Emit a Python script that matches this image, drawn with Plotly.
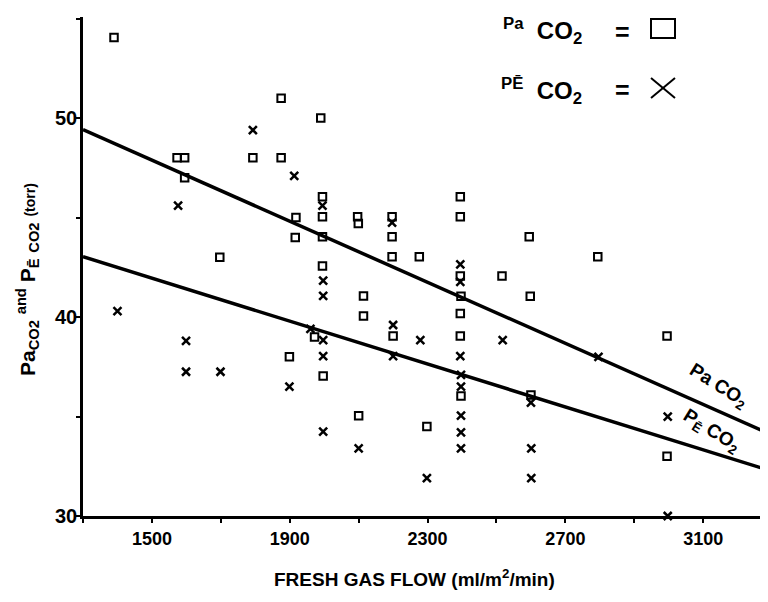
import plotly.graph_objects as go

# ---- data ----
pa_flow = [1390, 1875, 1573, 1595, 1793, 1875, 1595, 1990, 1918, 1916, 1697, 1899, 1972,
           1995, 1995, 1995, 1995, 1997, 2097, 2099, 2114, 2114, 2100, 2197, 2197, 2197,
           2200, 2276, 2298, 2395, 2395, 2395, 2397, 2395, 2395, 2397, 2516, 2595, 2598,
           2600, 2794, 2995, 2995]
pa_co2 = [54.05, 51.0, 48.0, 48.0, 48.0, 48.0, 47.0, 50.0, 45.0, 44.0, 43.0, 38.0, 39.0,
          46.05, 45.04, 44.04, 42.56, 37.04, 45.04, 44.7, 41.06, 40.05, 35.04, 45.04, 44.04, 43.03,
          39.05, 43.03, 34.5, 46.05, 45.04, 42.06, 41.05, 40.18, 39.05, 36.03, 42.06, 44.04, 41.05,
          36.08, 43.03, 39.05, 33.0]

pe_flow = [1400, 1576, 1599, 1599, 1699, 1793, 1913, 1899, 1960, 1995, 1997, 1997, 1997,
           1997, 1997, 2100, 2197, 2200, 2200, 2279, 2298, 2395, 2395, 2395, 2397, 2397,
           2397, 2397, 2397, 2518, 2600, 2601, 2601, 2796, 2997, 2997]
pe_co2 = [40.3, 45.6, 38.8, 37.25, 37.25, 49.4, 47.1, 36.5, 39.4, 45.6, 41.83, 41.06, 38.84,
          38.04, 34.24, 33.4, 44.75, 39.6, 38.04, 38.84, 31.9, 42.65, 41.77, 38.04, 37.09, 36.5,
          35.04, 34.2, 33.4, 38.84, 35.7, 33.4, 31.9, 38.0, 35.0, 30.0]

fit_flow = [1300, 3290]
pa_fit = [49.42, 34.15]
pe_fit = [43.03, 32.30]

x_tickvals = [1500, 1900, 2300, 2700, 3100]
y_tickvals = [30, 40, 50]

FONT = "Liberation Sans, Arial, sans-serif"

fig = go.Figure()
fig.add_trace(go.Scatter(x=fit_flow, y=pa_fit, mode="lines",
                         line=dict(color="black", width=3.5), showlegend=False, hoverinfo="skip"))
fig.add_trace(go.Scatter(x=fit_flow, y=pe_fit, mode="lines",
                         line=dict(color="black", width=3.5), showlegend=False, hoverinfo="skip"))
fig.add_trace(go.Scatter(x=pa_flow, y=pa_co2, mode="markers", name="Pa CO2",
                         marker=dict(symbol="square-open", size=7.5, color="black",
                                     line=dict(width=2, color="black")),
                         showlegend=False, cliponaxis=False))
fig.add_trace(go.Scatter(x=pe_flow, y=pe_co2, mode="markers", name="PE CO2",
                         marker=dict(symbol="x-thin-open", size=8, color="black",
                                     line=dict(width=2.5, color="black")),
                         showlegend=False, cliponaxis=False))

# page body has an 8px margin: size the figure so the plot lands where the reference has it
OFF = 8
W, H = 768 - OFF, 602 - OFF
L, R, T, B = 83 - OFF, 0, 17 - OFF, 86
pw, ph = W - L - R, H - T - B


def px(xp):
    return (xp - OFF - L) / pw


def py(yp):
    return (H - B - (yp - OFF)) / ph


fig.update_layout(
    width=W, height=H,
    margin=dict(l=L, r=R, t=T, b=B),
    paper_bgcolor="white", plot_bgcolor="white",
    font=dict(family=FONT, color="black"),
    xaxis=dict(range=[1300, 3288], showgrid=False, zeroline=False,
               showline=True, linecolor="black", linewidth=2.5,
               tickvals=x_tickvals, ticks="outside", ticklen=4, tickwidth=2, tickcolor="black",
               tickfont=dict(family=FONT, size=18, color="black", weight="bold"),
               ticklabelstandoff=1,
               minor=dict(tick0=1300, dtick=200, ticks="outside", ticklen=4, tickwidth=2,
                          tickcolor="black", showgrid=False)),
    yaxis=dict(range=[30, 55.08], showgrid=False, zeroline=False,
               showline=True, linecolor="black", linewidth=2.5,
               tickvals=y_tickvals, ticks="outside", ticklen=4, tickwidth=2, tickcolor="black",
               tickfont=dict(family=FONT, size=20, color="black", weight="bold"),
               ticklabelstandoff=-5,
               minor=dict(tick0=30, dtick=5, ticks="outside", ticklen=4, tickwidth=2,
                          tickcolor="black", showgrid=False)),
)

C = dict(xref="paper", yref="paper", showarrow=False, xanchor="center", yanchor="middle")
RT = dict(xref="paper", yref="paper", showarrow=False, xanchor="right", yanchor="middle")
anns = [
    # x-axis title
    dict(text="FRESH GAS FLOW (ml/m<sup>2</sup>/min)", x=px(414), y=py(578),
         font=dict(size=19, weight="bold"), **C),
    # y-axis title
    dict(text="Pa<sub>CO2</sub> <sup>and</sup> P<sub>Ē</sub> <sub>CO2</sub> "
              "<span style='font-size:14px'>(torr)</span>",
         x=px(27), y=py(280), textangle=-90, font=dict(size=21, weight="bold"), **C),
    # key
    dict(text="<sup>Pa</sup>&nbsp; CO<sub>2</sub>", x=px(584), y=py(31),
         font=dict(size=24, weight="bold"), **RT),
    dict(text="=", x=px(622), y=py(32), font=dict(size=25, weight="bold"), **C),
    dict(text="<sup>PĒ</sup>&nbsp; CO<sub>2</sub>", x=px(584), y=py(91),
         font=dict(size=24, weight="bold"), **RT),
    dict(text="=", x=px(622), y=py(90), font=dict(size=25, weight="bold"), **C),
    # line labels
    dict(text="Pa CO<sub>2</sub>", x=px(718), y=py(386), textangle=32,
         font=dict(size=19, weight="bold"), **C),
    dict(text="P<sub>Ē</sub> CO<sub>2</sub>", x=px(711), y=py(431), textangle=32,
         font=dict(size=19, weight="bold"), **C),
]
fig.update_layout(annotations=anns)

shapes = [
    dict(type="rect", xref="paper", yref="paper", x0=px(651), x1=px(675), y0=py(38), y1=py(19),
         line=dict(color="black", width=2)),
    dict(type="line", xref="paper", yref="paper", x0=px(651), x1=px(675), y0=py(78), y1=py(98),
         line=dict(color="black", width=2)),
    dict(type="line", xref="paper", yref="paper", x0=px(651), x1=px(675), y0=py(98), y1=py(78),
         line=dict(color="black", width=2)),
]
fig.update_layout(shapes=shapes)

fig.write_html("out.html")
